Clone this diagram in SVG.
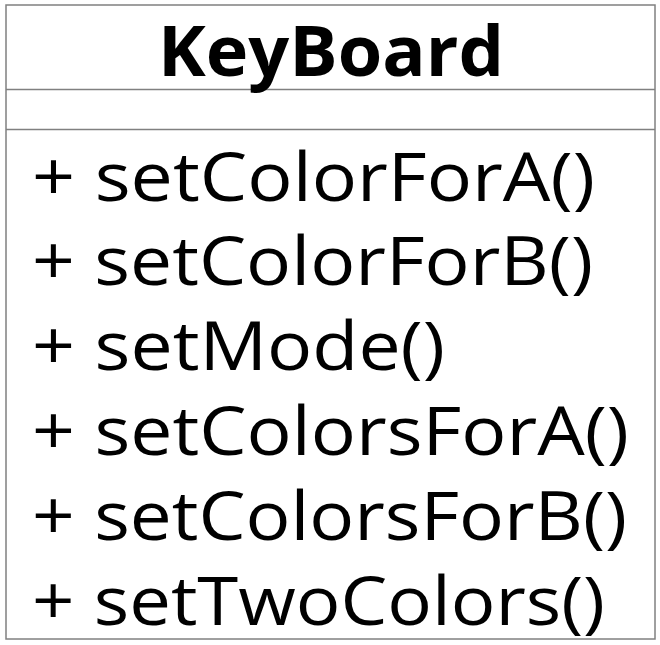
<svg xmlns="http://www.w3.org/2000/svg" width="660" height="645" viewBox="0 0 660 645">
<style>
.box{fill:#ffffff;stroke:#808080;stroke-width:1.5}
.sep{stroke:#808080;stroke-width:1.5}
.title{font-family:"Open Sans","DejaVu Sans",sans-serif;font-weight:bold;font-size:70px;fill:#000}
.m{font-family:"Open Sans","DejaVu Sans",sans-serif;font-size:68px;fill:#000}
</style>
<rect width="660" height="645" fill="#ffffff"/>
<g id="KeyBoard">
<rect class="box" x="6" y="5" width="649" height="634"/>
<line class="sep" x1="6" y1="89.5" x2="655" y2="89.5"/>
<line class="sep" x1="6" y1="129.5" x2="655" y2="129.5"/>
<text class="title" x="331" y="76" text-anchor="middle" textLength="346" lengthAdjust="spacingAndGlyphs">KeyBoard</text>
<text class="m" x="32" y="201" textLength="563" lengthAdjust="spacingAndGlyphs">+ setColorForA()</text>
<text class="m" x="32" y="285" textLength="561" lengthAdjust="spacingAndGlyphs">+ setColorForB()</text>
<text class="m" x="32" y="370" textLength="413" lengthAdjust="spacingAndGlyphs">+ setMode()</text>
<text class="m" x="32" y="455" textLength="597" lengthAdjust="spacingAndGlyphs">+ setColorsForA()</text>
<text class="m" x="32" y="540" textLength="595" lengthAdjust="spacingAndGlyphs">+ setColorsForB()</text>
<text class="m" x="32" y="625" textLength="573" lengthAdjust="spacingAndGlyphs">+ setTwoColors()</text>
</g>
</svg>
